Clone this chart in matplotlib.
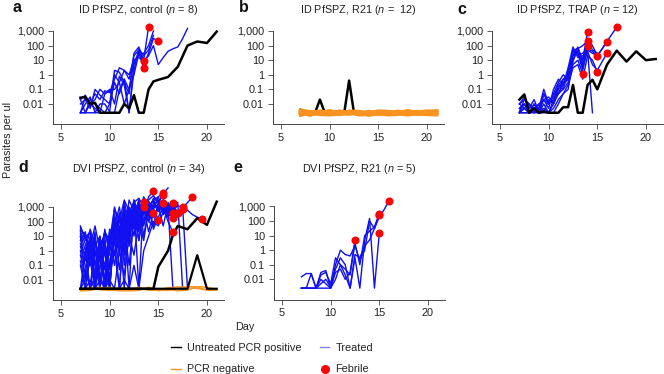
import matplotlib
matplotlib.use("Agg")
import matplotlib.pyplot as plt
import numpy as np
from matplotlib.lines import Line2D

plt.rcParams["font.family"] = ["Liberation Sans", "DejaVu Sans"]
plt.rcParams["mathtext.fontset"] = "custom"
plt.rcParams["mathtext.rm"] = "Liberation Sans"
plt.rcParams["mathtext.it"] = "Liberation Sans:italic"

B = 0.0025  # below detection limit
HALF_DAYS = np.arange(7, 21.5, 0.5)
DAILY = np.arange(7, 22, 1)

BLUE = "#1010f0"
BLACK = "#000000"
ORANGE = "#f7931e"
RED = "#ff0000"

# ---- panel a: ID PfSPZ, control ----
a_febrile = [
    [0.01, 0.02, 0.005, 0.1, 0.04, 0.02, 0.01, 2, 1.5, 0.3, 0.05, 30, 80, 10, 2000],
    [B, 0.03, 0.01, 0.05, 0.02, 0.08, 0.06, 0.5, 3, 2, 0.5, 20, 50, 5, 30, 300, 220],
    [0.02, B, 0.01, 0.005, B, 0.05, 0.1, 0.01, 0.8, 0.2, B, 5, 40, 9],
    [B, B, 0.02, 0.01, 0.005, B, 0.01, 0.3, 0.05, 0.5, 0.1, 1, 30, 3],
]
a_treated = [
    [0.02, 0.04, 0.01, 0.02, 0.1, 0.05, 0.08, 0.1, 0.3, 2, 1, 10, 15, 8, 20, 100, 5,
     15, 40, 60, 80, 300, 1500],
    [B, 0.01, 0.03, B, 0.01, 0.01, 0.003, 1, 0.3, 0.01, 0.1, 10, 20, 30, 100, 1000],
    [B, B, B, B, B, B, B, B, 0.1, 0.5, B, 2, 60, 20, 50, 500],
]
a_black_days = [7, 7.5, 8, 8.5, 9, 11, 11.5, 12, 12.5, 13, 13.5, 14, 14.5, 15, 16, 17, 18, 19, 20, 21]
a_black = [0.027, 0.03, 0.01, 0.012, B, B, 0.01, 0.005, 0.04, B, B, 0.1, 0.35, 0.45, 0.7,
           3.5, 100, 190, 150, 900]

# ---- panel b: ID PfSPZ, R21 ----
b_black_days = [7, 7.5, 8.5, 9, 9.5, 11, 11.5, 12, 12.5, 21]
b_black = [0.004, B, B, 0.02, B, B, B, 0.4, B, B]
b_orange_milli = [
    [3.8, 2.8, 3.2, 2.6, 2.5, 3.0, 2.4, 2.6, 2.9, 2.3, 2.6, 3.2, 2.7, 3.3, 3.0],
    [2.0, 2.5, 2.1, 3.0, 2.6, 2.0, 2.5, 2.1, 2.0, 2.5, 3.2, 2.5, 2.4, 2.6, 3.1],
    [2.9, 1.9, 2.6, 2.2, 3.3, 2.5, 2.0, 3.1, 2.2, 2.8, 2.1, 2.3, 3.1, 2.5, 2.1],
    [1.7, 2.3, 1.9, 1.8, 2.0, 2.7, 1.8, 1.9, 2.8, 1.9, 2.2, 1.8, 2.1, 1.9, 1.8],
    [3.3, 3.0, 2.5, 3.5, 2.3, 3.2, 3.1, 2.4, 3.3, 3.1, 2.5, 3.4, 2.6, 2.9, 3.4],
    [2.4, 1.7, 2.9, 2.1, 1.9, 2.3, 2.8, 1.7, 2.1, 1.8, 1.9, 2.7, 1.9, 2.1, 2.4],
]

# ---- panel c: ID PfSPZ, TRAP ----
c_febrile = [
    [0.01, 0.03, 0.005, 0.02, 0.003, 0.05, 0.01, 0.02, 0.1, 0.5, 1, 20, 60, 10, 900],
    [0.005, 0.01, B, 0.01, 0.005, 0.1, 0.01, 0.05, 0.05, 0.2, 0.5, 10, 80, 5, 220],
    [B, 0.005, 0.01, B, 0.003, 0.02, 0.03, 0.01, 0.2, 0.1, 2, 30, 40, 3, 95],
    [B, B, B, 0.005, B, 0.01, B, 0.02, 0.05, 0.1, 0.3, 5, 10, 1.2],
    [0.003, 0.02, 0.01, B, 0.01, 0.003, 0.02, 0.01, 0.1, 0.3, 0.8, 50, 20, 30, 60, 40, 20],
    [0.01, 0.005, B, 0.003, B, 0.005, B, 0.005, 0.02, 0.05, 0.2, 3, 5, 0.5, 20, 10, 1.6],
    [B, 0.01, 0.003, 0.005, B, 0.05, 0.01, 0.05, 0.3, 1, 0.5, 60, 30, 2, 50, 30, 20, 60, 185],
    [0.01, 0.02, 0.01, 0.005, 0.01, 0.02, 0.005, 0.1, 0.5, 0.2, 3, 80, 15, 20, 40, 5, 2, 8, 30],
    [0.005, 0.01, B, 0.003, 0.005, 0.02, 0.01, 0.03, 0.2, 0.5, 1, 40, 70, 10, 300, 100, 20,
     60, 200, 600, 1800],
]
c_treated = [
    [B, 0.005, B, 0.01, B, 0.003, B, 0.01, 0.05, 0.3, 0.5, 20, 30, 5, 50, B],
    [B, B, B, B, B, B, B, B, 0.01, 0.05, 0.1, 8, 60, 100, 200, 50, 30],
]
c_black_days = [7, 7.5, 8, 8.5, 9, 9.5, 10, 11, 11.5, 12, 12.5, 13, 13.5, 14, 14.5, 15,
                16, 17, 18, 19, 20, 21]
c_black = [0.02, 0.045, B, 0.005, B, 0.003, B, B, 0.006, 0.006, 0.2, B, B, 0.2, 0.45, 0.1,
           5, 45, 8, 40, 10, 12]

# ---- panel d: DVI PfSPZ, control ----
d_febrile = [
    [50, 5, 20, 0.1, 10, B, 3, 100, 20, 500, 50, 300, 1000, 2300],
    [10, 0.2, 5, B, 1, 0.05, 30, 10, 200, 5, 1000, 100, 500, 1000],
    [30, 10, 0.5, 20, B, 5, 0.01, 50, 1000, 10, 3000, 500, 2000, 300, 5000, 12000],
    [0.2, B, 1, 0.01, 3, B, 0.1, 5, B, 100, 10, 2000, 50, 800, 20, 400],
    [15, 1, 30, 2, 10, 0.05, 20, 5, 400, 0.1, 300, 1000, 50, 2000, 100, 800, 130],
    [5, 20, 0.1, 3, 0.5, 20, 1, 300, 10, 2000, 100, 3000, 200, 5000, 1000, 3000, 5000, 9500],
    [1, 0.01, 10, B, 0.5, 2, B, 100, 5, 500, 20, 1500, B, 3000, 500, 4000, 2000, 6600],
    [B, 0.05, B, 1, 0.01, B, 5, 0.1, 50, B, 400, 10, 2000, 100, 1000, 3000, 500, 1800],
    [20, 3, 0.1, 10, B, 30, 0.5, 1000, 20, 300, B, 2000, 100, 4000, 300, 1500, 800, 3000,
     500, 2000],
    [B, 1, B, 0.02, 5, 0.01, 10, 0.5, 200, 1, 800, 50, 3000, 10, 800, 200, 1000, 50, 1500, 400],
    [0.1, B, 0.5, B, 0.01, 1, B, 20, 0.05, 100, 5, 500, 20, 1000, 100, 50, 2000, 300, 800, 170],
    [2, 0.1, B, 5, 0.02, B, 0.2, 10, 300, 0.5, 50, 2000, 5, 500, 1000, 30, 200, 1000, 100, 19],
    [40, 8, 20, 0.5, 3, 10, B, 200, 2, 1000, 30, 200, 3000, 50, 2000, 800, 5000, 600, 1500,
     200, 370],
    [B, B, 0.01, B, 0.5, B, 0.02, 1, B, 50, 0.1, 300, 5, 1000, 100, 2000, 500, 3000, 200,
     1000, 300, 700],
    [0.5, 0.02, 2, 0.1, B, 3, 0.05, 50, 1, 500, 10, 3000, 200, 1000, 2500, 800, 1500, 400,
     2000, 600, 1200, 1000],
    [10, 0.01, 5, 1, 0.05, 20, 2, 100, 10, 800, 50, 1500, 200, 2500, 1000, 3000, 500, 2000,
     300, 1000, 500, 800, 2000, 4600],
    [B, 0.01, 0.2, B, 1, 0.005, 2, 0.5, 50, 2, 500, 30, 1000, 100, 2000, 300, 800, 2000, 500,
     1000, 200, 400, 600, 300, 200, 145],
]
d_treated = [
    [25, 12, 2, 50, 1, 20, 5, 800, 100, 3000, 500, 2000, 4000, 1000, 3000, 6000, 2000, 8000,
     20000],
    [3, 0.5, 8, 0.02, 2, 0.1, B, 30, 0.5, 400, 2, 2000, 30, 3000, 200, 1000, 3000, 500, 1000, B],
    [B, B, B, B, B, B, 0.01, B, 1, 0.02, 10, 0.5, 100, 5, 800, 50, 2000, 300, 1500, 600, 2000, B],
    [B, B, B, B, B, B, B, B, B, 0.01, B, 0.1, B, 1, 10, 100, 50, 500, 200, 800, 300, 1000, B],
]
d_black1_days = [7, 14.5, 15, 16, 16.5, 17, 18, 19, 20, 21]
d_black1 = [B, B, 0.08, 1.0, 12, 50, 30, 170, 60, 2300]
d_black2_days = [7, 18, 19, 20, 21]
d_black2 = [B, B, 0.5, B, B]
d_orange_milli = [
    [2.2, 2.0, 2.6, 3.1, 2.0, 2.3, 2.1, 2.7, 2.2, 2.9, 3.4, 3.0, 2.6, 2.1, 2.3],
    [1.9, 2.8, 2.1, 1.9, 2.8, 2.0, 3.1, 1.9, 2.0, 1.9, 2.6, 3.6, 3.4, 2.0, 1.9],
    [1.8, 1.9, 3.2, 2.1, 1.8, 1.8, 1.9, 3.2, 1.8, 2.2, 1.8, 2.0, 3.5, 3.2, 2.1],
]

# ---- panel e: DVI PfSPZ, R21 ----
e_febrile = [
    [B, B, B, B, 0.01, 0.005, B, 0.03, 0.05, 0.01, 0.03, 4.8],
    [0.015, 0.025, 0.025, B, 0.03, 0.04, B, 0.1, 1, 0.5, 0.4, 2, 0.2, 1, 100, 30, 270],
    [B, B, 0.025, B, 0.02, 0.03, 0.005, 0.3, 0.1, 0.05, 0.02, 3, 0.1, 10, 20, 40, 320],
    [B, B, B, B, 0.005, 0.01, 0.003, 0.05, 0.3, 0.1, B, 0.3, B, 5, 150, B, 15],
    [B, B, B, B, B, B, B, 0.01, 0.1, 0.02, B, 0.5, 0.3, 2, 5, 30, 200, 600, 2400],
]

titles = {
    "a": r"ID PfSPZ, control ($n$ = 8)",
    "b": r"ID PfSPZ, R21 ($n$ =  12)",
    "c": r"ID PfSPZ, TRAP ($n$ = 12)",
    "d": r"DVI PfSPZ, control ($n$ = 34)",
    "e": r"DVI PfSPZ, R21 ($n$ = 5)",
}
ytick_vals = [0.01, 0.1, 1, 10, 100, 1000]
ytick_labels = ["0.01", "0.1", "1", "10", "100", "1,000"]
xtick_vals = [5, 10, 15, 20]

FS = 7.8
W, H = 664, 374
fig = plt.figure(figsize=(W / 100, H / 100), dpi=100)


def make_axes(left, top, right, bottom):
    ax = fig.add_axes([left / W, 1 - bottom / H, (right - left) / W, (bottom - top) / H])
    ax.set_yscale("log")
    ax.set_ylim(10 ** -3.4, 10 ** 4.6)
    ax.set_xlim(4.18, 21.75)
    ax.spines["top"].set_visible(False)
    ax.spines["right"].set_visible(False)
    ax.spines["left"].set_bounds(10 ** -3.4, 1000)
    for s in ("left", "bottom"):
        ax.spines[s].set_linewidth(0.7)
        ax.spines[s].set_color("#444444")
    ax.set_yticks(ytick_vals)
    ax.set_yticklabels(ytick_labels)
    ax.yaxis.set_minor_locator(matplotlib.ticker.NullLocator())
    ax.set_xticks(xtick_vals)
    ax.tick_params(axis="both", labelsize=FS, length=3.5, width=0.6, color="#444444",
                   labelcolor="#222222")
    ax.tick_params(axis="y", pad=3)
    ax.tick_params(axis="x", pad=2.5)
    ax.patch.set_alpha(0)
    return ax


def draw_blue(ax, febrile, treated):
    for vals in treated + febrile:
        ax.plot(HALF_DAYS[:len(vals)], vals, color=BLUE, lw=1.0)


def draw_dots(ax, febrile):
    for vals in febrile:
        ax.plot(HALF_DAYS[len(vals) - 1], vals[-1], "o", color=RED, ms=5.8, mec="none",
                zorder=5, clip_on=False)


boxes = {
    "a": (53, 7.6, 224, 124.4),
    "b": (273, 7.6, 444, 124.4),
    "c": (492, 7.6, 663, 124.4),
    "d": (53, 183.6, 224, 300.4),
    "e": (274, 183.0, 445, 299.8),
}
axes = {k: make_axes(*v) for k, v in boxes.items()}

# a
ax = axes["a"]
draw_blue(ax, a_febrile, a_treated)
ax.plot(a_black_days, a_black, color=BLACK, lw=1.8)
draw_dots(ax, a_febrile)

# b
ax = axes["b"]
ax.plot(b_black_days, b_black, color=BLACK, lw=1.8)
for vals in b_orange_milli:
    ax.plot(DAILY, np.array(vals) / 1000, color=ORANGE, lw=2.4)

# c
ax = axes["c"]
draw_blue(ax, c_febrile, c_treated)
ax.plot(c_black_days, c_black, color=BLACK, lw=1.8)
draw_dots(ax, c_febrile)

# d
ax = axes["d"]
draw_blue(ax, d_febrile, d_treated)
for vals in d_orange_milli:
    ax.plot(DAILY, np.array(vals) / 1000, color=ORANGE, lw=1.0)
ax.plot(d_black2_days, d_black2, color=BLACK, lw=1.6)
ax.plot(d_black1_days, d_black1, color=BLACK, lw=1.8)
draw_dots(ax, d_febrile)

# e
ax = axes["e"]
draw_blue(ax, e_febrile, [])
draw_dots(ax, e_febrile)

# titles and panel letters
title_pos = {"a": 10, "b": 10, "c": 10, "d": 169, "e": 169}
letter_pos = {"a": (17, 8), "b": (244, 8), "c": (462, 9), "d": (23, 167), "e": (238, 167)}
for k, (l, t, r, b) in boxes.items():
    fig.text((l + r) / 2 / W, 1 - title_pos[k] / H, titles[k], ha="center", va="center",
             fontsize=FS, color="#222222")
    lx, ly = letter_pos[k]
    fig.text(lx / W, 1 - ly / H, k, ha="center", va="center", fontsize=11.5,
             fontweight="bold", color="#111111")

fig.text(8 / W, 1 - 140 / H, "Parasites per ul", rotation=90, ha="center", va="center",
         fontsize=FS, color="#222222")
fig.text(245 / W, 1 - 327 / H, "Day", ha="center", va="center", fontsize=FS,
         color="#222222")

handles = [
    Line2D([], [], color=BLACK, lw=1.0),
    Line2D([], [], color=ORANGE, lw=1.0),
    Line2D([], [], color="#8080ff", lw=1.0),
    Line2D([], [], color=RED, marker="o", ls="none", ms=6.5, mec="none"),
]
labels = ["Untreated PCR positive", "PCR negative", "Treated", "Febrile"]
fig.legend(handles, labels, ncol=2, loc="upper left", bbox_to_anchor=(171 / W, 1 - 343 / H),
           frameon=False, fontsize=FS, handlelength=0.9, handletextpad=0.55,
           columnspacing=1.7, labelspacing=1.05, borderpad=0, borderaxespad=0,
           labelcolor="#222222")

fig.savefig("out.png", dpi=100)
